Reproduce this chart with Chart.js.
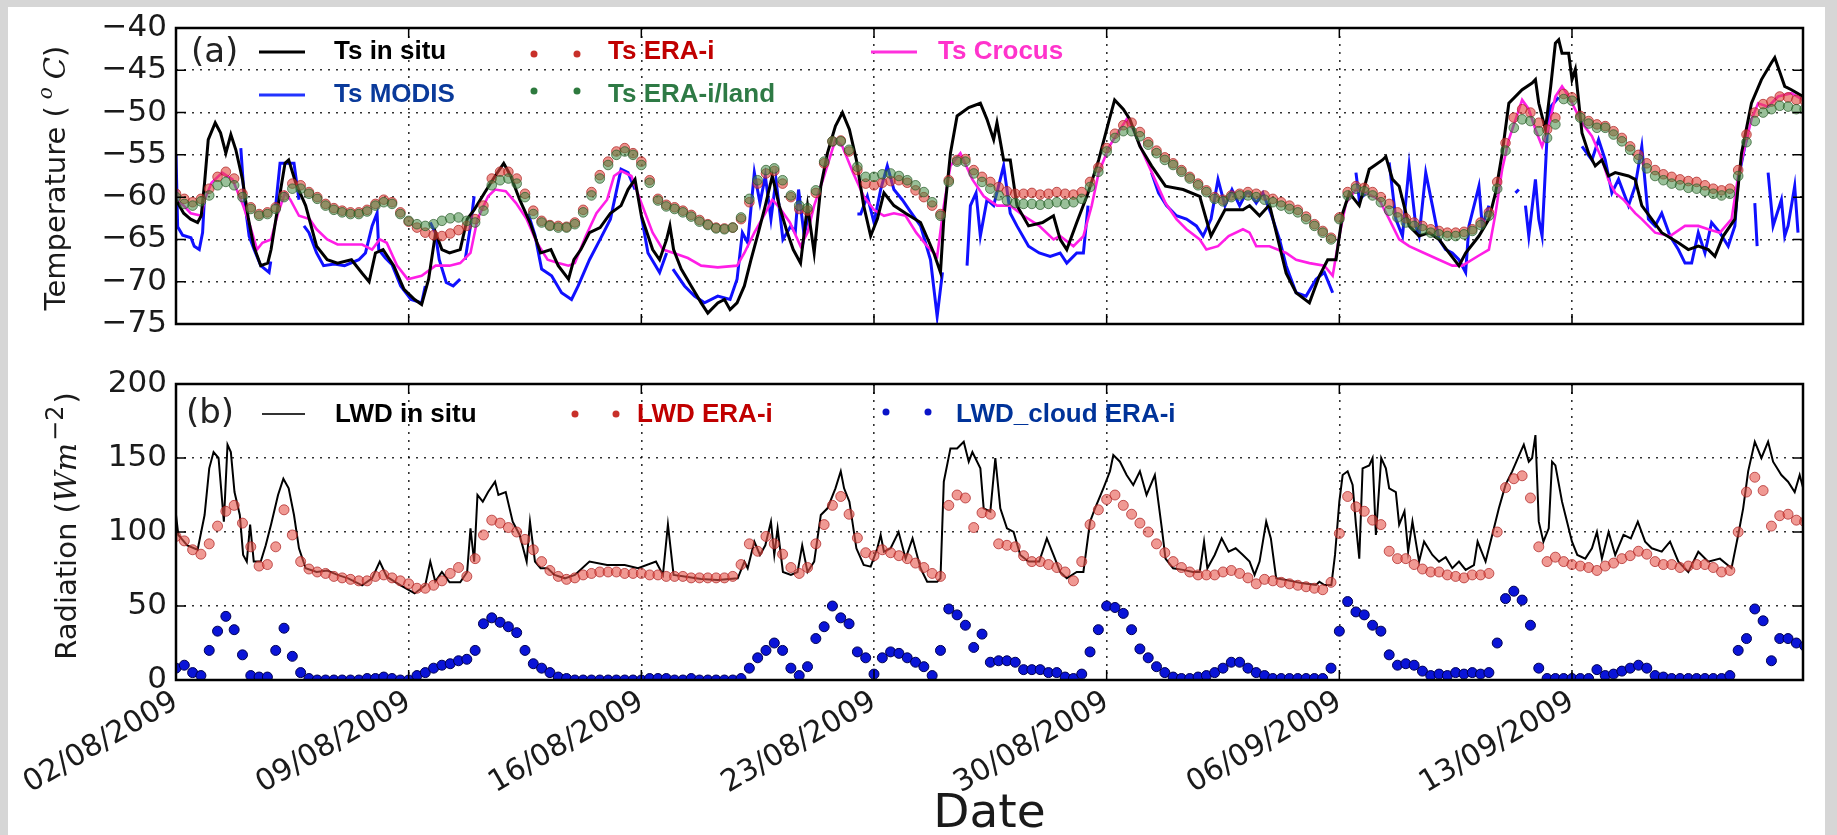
<!DOCTYPE html>
<html>
<head>
<meta charset="utf-8">
<script src="https://cdn.jsdelivr.net/npm/chart.js@4.4.0/dist/chart.umd.min.js"></script>
<style>
  html, body { margin: 0; padding: 0; width: 1837px; height: 835px; overflow: hidden; background: #d6d6d6; }
  #card { position: absolute; left: 8px; top: 7px; width: 1817px; height: 828px; background: #fff; }
  canvas { position: absolute; left: 0; top: 0; }
  .ytitle { position: absolute; white-space: nowrap; font: 29px "DejaVu Sans", sans-serif; color: #1a1a1a;
            line-height: 1; transform: translate(-50%, -50%) rotate(-90deg); z-index: 5; }
  .mth { font-family: "DejaVu Serif", serif; font-style: italic; }
  .deg { font-family: "DejaVu Serif", serif; font-style: italic; font-size: 20px; position: relative; top: -13px; margin-left: 7px; }
  .pow { font-size: 24px; position: relative; top: -13px; margin-left: 2px; margin-right: 2px; }
</style>
</head>
<body>
<div id="card"></div>
<canvas id="topChart" width="1837" height="835"></canvas>
<canvas id="botChart" width="1837" height="835"></canvas>
<div class="ytitle" style="left:55px; top:178px;">Temperature (<span class="deg">o</span><span class="mth" style="margin-left:8px">C</span>)</div>
<div class="ytitle" style="left:66px; top:526px;">Radiation (<span class="mth" style="font-size:30px">Wm</span><span class="pow">&#8722;2</span>)</div>
<script>
// x axis = days since 02/08/2009 00:00
const tickDays = [0, 7, 14, 21, 28, 35, 42];
const tickLabels = ['02/08/2009', '09/08/2009', '16/08/2009', '23/08/2009', '30/08/2009', '06/09/2009', '13/09/2009'];
const xMax = 48.95;
const tempTicks = [-75, -70, -65, -60, -55, -50, -45, -40];
const radTicks = [0, 50, 100, 150, 200];

// ---- panel (a): surface temperature ----
// [day, degC]
const tsInSitu = [[0,-60.3],[0.23,-61.9],[0.44,-62.6],[0.65,-63],[0.76,-62.2],[0.86,-58.3],[0.97,-53.2],[1.18,-51.2],[1.34,-52.4],[1.5,-54.8],[1.65,-52.6],[1.8,-54.4],[2.0,-57.9],[2.18,-62.6],[2.34,-65.8],[2.55,-68.1],[2.76,-67.8],[2.86,-66.2],[3.07,-61],[3.28,-56],[3.39,-55.6],[3.6,-58.3],[3.9,-61],[4.23,-65.8],[4.55,-67.4],[4.86,-67.8],[5.28,-67.4],[5.6,-69],[5.81,-70],[6.0,-66.6],[6.23,-66.2],[6.55,-68.1],[6.86,-70.9],[7.18,-72.1],[7.39,-72.7],[7.6,-69.7],[7.81,-64.2],[8.0,-66.2],[8.23,-66.6],[8.55,-66.2],[8.76,-62.6],[8.97,-61.5],[9.28,-59.5],[9.6,-57.5],[9.86,-56],[10.07,-57.5],[10.34,-60.3],[10.65,-63],[10.97,-66.6],[11.28,-66.2],[11.5,-68.1],[11.81,-69.7],[11.97,-67.4],[12.18,-66.2],[12.44,-64.2],[12.76,-63.6],[13.07,-61.9],[13.39,-61],[13.6,-59.1],[13.81,-57.9],[14.0,-62.2],[14.34,-66.2],[14.55,-67.4],[14.76,-65],[14.86,-63.4],[14.97,-66.2],[15.2,-68.5],[15.5,-70.5],[15.8,-72.5],[16.0,-73.7],[16.3,-72.5],[16.5,-72.1],[16.67,-73.3],[16.88,-72.5],[17.1,-70.5],[17.3,-67.4],[17.52,-64.2],[17.73,-61],[17.94,-57.5],[18.15,-61],[18.36,-63.8],[18.57,-66.2],[18.79,-67.8],[19.0,-61],[19.2,-66.6],[19.4,-58.7],[19.6,-54.8],[19.84,-51.6],[20.05,-50],[20.26,-52],[20.47,-55.6],[20.69,-61],[20.9,-64.6],[21.1,-62.6],[21.3,-59.5],[21.6,-61],[21.95,-61.9],[22.4,-63],[22.8,-66.6],[23.0,-68.9],[23.1,-62.6],[23.3,-54.8],[23.5,-50.4],[23.85,-49.4],[24.2,-48.9],[24.4,-50.8],[24.6,-53.2],[24.7,-51.2],[24.9,-55.6],[25.1,-55.6],[25.3,-61],[25.65,-63.4],[26.07,-63],[26.4,-62.2],[26.6,-65],[26.8,-66.2],[27.1,-63],[27.44,-59.5],[27.76,-55.6],[28.08,-50.8],[28.24,-48.5],[28.5,-49.6],[28.7,-50.8],[29.0,-54],[29.35,-56.3],[29.77,-58.7],[30.3,-59.1],[30.8,-59.9],[31.14,-64.6],[31.56,-61.5],[32.1,-61.5],[32.3,-61],[32.6,-62.2],[32.9,-60.9],[33.4,-69],[33.7,-71.3],[34.1,-72.5],[34.4,-69.3],[34.65,-67.4],[34.9,-67.4],[35.1,-61.9],[35.3,-59.5],[35.6,-61],[35.9,-56.7],[36.3,-55.6],[36.4,-55.2],[36.6,-57.9],[36.8,-58.7],[37.1,-63.4],[37.4,-64.6],[37.7,-64.2],[38.0,-65],[38.3,-66.6],[38.6,-68.1],[38.8,-66.6],[39.2,-64.6],[39.5,-62.6],[39.7,-59.5],[39.9,-54.8],[40.1,-48.9],[40.5,-47.3],[40.8,-46.5],[40.9,-46.1],[41.0,-48.9],[41.2,-52],[41.36,-46.9],[41.5,-41.8],[41.6,-41.4],[41.7,-43],[41.9,-43],[42.0,-46.1],[42.1,-44.9],[42.3,-52.4],[42.5,-54.8],[42.7,-56.3],[42.9,-55.6],[43.1,-57.5],[43.3,-57.1],[43.7,-57.5],[43.9,-57.9],[44.1,-61],[44.4,-62.6],[44.7,-64.2],[45.2,-65.4],[45.5,-66.2],[45.8,-65.8],[46.1,-66.2],[46.3,-67],[46.55,-64.6],[46.9,-62.6],[47.1,-54.8],[47.4,-48.9],[47.7,-46.1],[48.0,-44.1],[48.1,-43.5],[48.4,-46.9],[48.6,-47.3],[48.95,-48.1]];

// [day, degC], null = no MODIS retrieval
const tsModis = [[0,-55],[0.05,-63.5],[0.2,-64.5],[0.45,-64.8],[0.55,-65.8],[0.7,-66.2],[0.8,-64.2],[0.85,-60.5],[0.9,null],
  [1.95,-54.2],[2.05,-60],[2.2,-64.6],[2.35,-66.2],[2.55,-68.1],[2.8,-68.9],[2.85,-67.6],[2.9,null],
  [3.0,-61],[3.13,-56],[3.3,-56],[3.55,-56],[3.7,-60.3],[3.78,null],
  [3.85,-63.4],[4.0,-64.2],[4.23,-66.6],[4.44,-68.1],[4.76,-67.9],[5.07,-68.1],[5.5,-67.4],[5.7,-66.6],[5.9,-63.4],[6.05,-61.9],[6.1,-66.2],[6.3,-67.2],[6.5,-68],[6.76,-70.5],[7.07,-72.1],[7.39,-72.5],[7.5,-70.5],[7.55,null],
  [7.65,-63],[7.8,-64.2],[7.92,-67.4],[8.13,-70.1],[8.34,-70.5],[8.55,-69.7],[8.6,null],
  [8.7,-67.4],[8.86,-63.4],[8.97,-59.9],[9.0,null],
  [10.6,-62],[10.8,-64.5],[11.0,-68.5],[11.3,-69.3],[11.6,-71.3],[11.9,-72.1],[12.1,-70.5],[12.44,-67.4],[12.76,-65],[13.07,-62.6],[13.39,-56.7],[13.6,-57.1],[13.81,-59.1],[13.9,null],
  [14.0,-62.2],[14.2,-66.6],[14.55,-68.9],[14.76,-66.6],[14.85,null],
  [14.95,-68.5],[15.3,-70.5],[15.6,-71.7],[15.9,-72.5],[16.3,-71.7],[16.67,-72.1],[16.88,-69.7],[17.04,-64.2],[17.2,-65.4],[17.4,-57.1],[17.57,-60.7],[17.73,-57.5],[17.9,-62.6],[18.05,-57.9],[18.26,-65],[18.5,-63.4],[18.63,-64.2],[18.73,-59.1],[18.9,-64.6],[19.05,-61.5],[19.1,null],
  [20.5,-62],[20.6,-62],[20.8,-59.9],[21.0,-63],[21.2,-59.1],[21.4,-56.3],[21.6,-59.1],[21.85,-60.3],[22.06,-61.5],[22.4,-63.4],[22.7,-67.4],[22.9,-74.1],[23.06,-68.9],[23.1,null],
  [23.8,-68.1],[23.9,-61],[24.07,-59.5],[24.2,-64.6],[24.4,-60.3],[24.6,-61],[24.9,-56.3],[25.1,-61.9],[25.3,-63.4],[25.65,-65.8],[25.97,-66.6],[26.3,-67],[26.6,-66.6],[26.8,-67.8],[27.1,-66.6],[27.3,-66.6],[27.44,-61],[27.5,null],
  [29.35,-57.1],[29.56,-59.5],[29.8,-61],[30.1,-62.2],[30.4,-62.6],[30.7,-63.4],[30.9,-64.6],[31.14,-62.6],[31.35,-57.9],[31.56,-61],[31.77,-59.1],[32.0,-61],[32.2,-59.5],[32.3,-59.5],[32.5,-60.7],[32.7,-59.5],[32.94,-61.9],[33.2,-65],[33.4,-68.1],[33.7,-71.3],[34.0,-71.7],[34.3,-69.7],[34.55,-68.9],[34.8,-71.3],[34.85,null],
  [35.5,-57.1],[35.6,-60.3],[35.8,-59.5],[35.85,null],
  [36.5,-55.9],[36.7,-62.6],[36.9,-64.6],[37.1,-56.3],[37.3,-63.4],[37.4,-64.6],[37.6,-57.1],[37.8,-61],[38.0,-65],[38.2,-66.2],[38.4,-66.6],[38.6,-67.4],[38.8,-68.9],[38.9,-63.4],[39.2,-58.7],[39.3,-63.4],[39.5,-61],[39.55,null],
  [40.3,-59.5],[40.4,-59.1],[40.45,null],
  [40.6,-61],[40.7,-64.6],[40.9,-57.9],[41.0,-62.6],[41.1,-64.6],[41.25,-52.8],[41.36,-49.3],[41.6,-48.2],[41.65,null],
  [42.3,-54],[42.6,-55.6],[42.8,-53.2],[43.0,-55.6],[43.2,-59.5],[43.4,-57.9],[43.7,-61],[43.9,-58.7],[44.1,-54],[44.3,-62.6],[44.5,-63.4],[44.7,-61.9],[44.95,-64.6],[45.2,-66.2],[45.4,-67.8],[45.6,-67.8],[45.8,-64.2],[46.0,-66.6],[46.2,-63],[46.45,-64.2],[46.7,-65.8],[46.9,-63.4],[47.0,-57.9],[47.2,-54],[47.3,-52.4],[47.35,null],
  [47.5,-60.7],[47.57,-65.8],[47.6,null],
  [47.9,-57.1],[48.05,-63.4],[48.3,-60.3],[48.4,-64.6],[48.5,-63.4],[48.7,-58.7],[48.8,-64.2]];

// [day, degC]
const tsCrocus = [[0,-60.3],[0.23,-61],[0.44,-61.9],[0.76,-62.2],[0.86,-60.3],[1.07,-58.3],[1.39,-57.1],[1.7,-57.9],[2.02,-61],[2.23,-63.4],[2.44,-66.2],[2.6,-65.4],[2.86,-65],[3.07,-61.9],[3.28,-59.5],[3.44,-60.3],[3.7,-62.2],[4.02,-62.6],[4.23,-63.8],[4.55,-65],[4.86,-65.6],[5.4,-65.6],[5.6,-65.6],[5.9,-66.2],[6.13,-65],[6.34,-65.4],[6.65,-68.1],[6.97,-69.7],[7.39,-69.3],[7.81,-68.1],[8.23,-68.1],[8.55,-67.8],[8.86,-66.6],[9.07,-62.6],[9.39,-59.9],[9.6,-59.1],[9.92,-59.3],[10.23,-60.7],[10.55,-62.6],[10.86,-65.4],[11.18,-67.4],[11.5,-67.8],[11.81,-68.1],[12.0,-67.8],[12.33,-64.6],[12.65,-61.9],[12.97,-60.3],[13.18,-57.5],[13.39,-56.9],[13.7,-57.5],[14.0,-60.7],[14.34,-64.2],[14.65,-66.2],[14.97,-66.6],[15.4,-67.2],[15.8,-68.1],[16.3,-68.3],[16.88,-68.1],[17.1,-66.6],[17.4,-64.2],[17.73,-61.9],[17.94,-60.3],[18.15,-61.2],[18.47,-63],[18.79,-65.8],[19.0,-64.2],[19.2,-61],[19.5,-57.5],[19.84,-53.2],[20.05,-54],[20.37,-57.1],[20.69,-59.9],[21.0,-61.5],[21.3,-62.2],[21.6,-61.9],[21.95,-62.2],[22.27,-64.2],[22.6,-65.8],[22.9,-67],[23.1,-61],[23.3,-56.3],[23.6,-54.8],[23.96,-57.9],[24.3,-59.9],[24.7,-61],[25.1,-61],[25.5,-62.2],[25.97,-63.4],[26.4,-65],[26.6,-64.6],[27.0,-65.8],[27.3,-64.6],[27.55,-61],[27.76,-57.1],[28.08,-54],[28.4,-52],[28.6,-50.8],[28.8,-52],[29.1,-54.8],[29.45,-57.9],[29.77,-60.7],[30.1,-62.6],[30.4,-63.8],[30.8,-65],[31.0,-66.2],[31.35,-65.8],[31.67,-64.6],[32.1,-63.8],[32.3,-64.2],[32.5,-65.8],[32.9,-65.8],[33.4,-66.6],[33.7,-67.4],[34.1,-67.8],[34.55,-68.1],[34.8,-69.3],[35.0,-64.6],[35.2,-60.7],[35.5,-59.1],[35.8,-59.5],[36.2,-60.3],[36.5,-62.6],[36.8,-65],[37.1,-65.8],[37.55,-66.6],[38.0,-67.4],[38.4,-68.1],[38.7,-68.1],[39.2,-66.9],[39.5,-66.2],[39.7,-61.9],[39.9,-56.7],[40.1,-53.2],[40.5,-48.5],[40.7,-49.6],[40.9,-52],[41.1,-54],[41.3,-51.6],[41.5,-48.1],[41.7,-46.9],[41.9,-48.1],[42.3,-51.2],[42.6,-52.8],[42.9,-55.5],[43.1,-58],[43.3,-59.5],[43.55,-60.3],[43.9,-61.9],[44.1,-62.6],[44.5,-64.2],[44.95,-64.6],[45.4,-63.4],[45.8,-63.4],[46.1,-63.8],[46.45,-64.2],[46.8,-62.6],[47.0,-57.5],[47.2,-54],[47.4,-50.8],[47.6,-48.9],[47.9,-49.3],[48.2,-48.1],[48.6,-47.7],[48.95,-48.5]];

// 6-hourly values from 02/08/2009 00:00, degC
const tsEraI = [
  -59.6,-60.2,-60.6,-60.2, -59.0,-57.6,-57.0,-57.8, -59.6,-61.2,-62.0,-61.8, -61.2,-59.8,-58.4,-58.6,
  -59.4,-60.0,-60.8,-61.3, -61.6,-61.8,-61.8,-61.5, -60.8,-60.3,-60.6,-61.8, -62.9,-63.6,-64.2,-64.5,
  -64.6,-64.3,-63.9,-63.4, -62.6,-61.0,-57.8,-57.0, -57.0,-57.8,-59.6,-61.6, -62.8,-63.3,-63.4,-63.5,
  -63.0,-61.5,-59.4,-57.4, -55.8,-54.6,-54.2,-54.8, -55.8,-58.0,-60.2,-60.9, -61.2,-61.6,-62.1,-62.7,
  -63.2,-63.6,-63.7,-63.6, -62.6,-60.6,-58.4,-57.2, -56.9,-58.4,-60.0,-61.4, -61.6,-59.5,-56.0,-53.4,
  -53.3,-54.6,-56.8,-58.4, -58.6,-58.3,-58.1,-58.0, -58.3,-59.2,-60.0,-61.0, -62.0,-58.0,-55.6,-55.5,
  -56.8,-57.6,-58.2,-58.8, -59.3,-59.6,-59.6,-59.5, -59.7,-59.6,-59.4,-59.6, -59.7,-59.4,-58.2,-56.5,
  -54.2,-52.5,-51.5,-51.2, -52.3,-53.5,-54.5,-55.3, -56.0,-56.8,-57.6,-58.4, -59.2,-60.0,-60.3,-59.8,
  -59.6,-59.4,-59.6,-59.8, -60.2,-60.6,-61.0,-61.5, -62.3,-63.2,-64.0,-64.8, -62.4,-59.4,-58.7,-58.9,
  -59.4,-60.0,-60.8,-61.8, -62.5,-63.0,-63.4,-63.8, -64.0,-64.2,-64.2,-64.1, -63.8,-63.0,-61.8,-58.2,
  -53.6,-50.6,-49.6,-50.0, -51.2,-52.0,-50.6,-47.8, -48.2,-50.4,-51.0,-51.4, -51.6,-52.2,-53.0,-54.0,
  -55.0,-56.0,-56.8,-57.3, -57.6,-57.9,-58.1,-58.2, -58.6,-59.0,-59.2,-59.0, -56.8,-52.6,-50.0,-49.0,
  -48.7,-48.1,-48.2,-48.5, -48.6];

const tsEraLand = [
  -60.0,-60.8,-61.0,-60.5, -59.8,-58.6,-58.2,-58.6, -60.0,-61.4,-62.2,-62.0, -61.4,-60.0,-59.0,-59.0,
  -59.6,-60.2,-61.0,-61.5, -61.8,-62.0,-62.0,-61.7, -61.0,-60.6,-60.8,-62.0, -62.8,-63.2,-63.4,-63.2,
  -62.8,-62.5,-62.4,-62.8, -63.0,-61.6,-58.6,-58.0, -57.8,-58.4,-60.0,-62.0, -63.0,-63.4,-63.6,-63.6,
  -63.2,-61.8,-59.8,-57.8, -56.2,-55.0,-54.6,-55.0, -56.2,-58.3,-60.4,-61.1, -61.4,-61.8,-62.3,-62.9,
  -63.3,-63.7,-63.8,-63.6, -62.4,-60.2,-58.0,-56.8, -56.6,-58.0,-59.8,-61.0, -61.3,-59.2,-55.8,-53.4,
  -53.4,-54.4,-56.4,-57.6, -57.6,-57.3,-57.2,-57.5, -58.0,-58.6,-59.4,-60.6, -62.2,-58.2,-55.8,-55.8,
  -57.2,-58.2,-59.0,-59.8, -60.4,-60.7,-60.8,-60.8, -60.9,-60.8,-60.6,-60.8, -60.6,-60.2,-58.8,-57.0,
  -54.6,-53.0,-52.2,-52.2, -52.8,-53.8,-54.8,-55.6, -56.2,-57.0,-57.8,-58.6, -59.4,-60.2,-60.5,-60.0,
  -59.8,-59.8,-60.0,-60.3, -60.6,-61.0,-61.4,-61.8, -62.6,-63.4,-64.2,-65.0, -62.6,-59.8,-59.0,-59.3,
  -59.8,-60.6,-61.6,-62.4, -63.0,-63.4,-63.8,-64.2, -64.4,-64.6,-64.6,-64.4, -64.0,-63.3,-62.2,-59.0,
  -54.5,-51.8,-50.8,-51.0, -52.2,-53.0,-51.4,-48.4, -48.6,-50.6,-51.3,-51.8, -51.8,-52.6,-53.4,-54.4,
  -55.5,-56.6,-57.5,-58.0, -58.4,-58.6,-58.9,-59.0, -59.3,-59.6,-59.8,-59.6, -57.5,-53.5,-51.0,-50.0,
  -49.6,-49.2,-49.3,-49.6, -49.6];

// ---- panel (b): downward longwave radiation ----
// [day, W m-2]
const lwdInSitu = [[0,111.5],[0.07,98],[0.34,91],[0.65,88],[0.86,111.5],[1.0,143],[1.13,154],[1.28,150],[1.44,107],[1.55,159],[1.65,154],[1.76,127],[1.92,111.5],[2.02,84.5],[2.13,80],[2.23,105],[2.34,80],[2.55,80],[2.7,91],[2.86,105],[3.07,125],[3.23,136],[3.39,129.5],[3.55,111.5],[3.7,89],[3.9,75.5],[4.23,73],[4.55,74],[4.86,71],[5.18,68.7],[5.6,64],[5.9,68.7],[6.13,80],[6.34,69.8],[6.76,64],[7.18,58.5],[7.5,64],[7.65,80],[7.8,66.5],[8.0,73],[8.23,66],[8.55,66],[8.76,73],[8.86,102.5],[8.97,80],[9.07,125],[9.23,120.5],[9.39,127],[9.6,134],[9.7,125],[9.92,127],[10.13,107],[10.34,98],[10.55,80],[10.65,107],[10.8,80],[10.97,75.5],[11.18,75.5],[11.39,71],[11.7,68.7],[12.0,71],[12.44,80],[12.97,77.7],[13.5,77.7],[13.9,75.5],[14.44,80],[14.65,71],[14.8,105],[14.97,71],[15.3,70],[15.8,68.2],[16.3,67.5],
  [16.9,68.7],[17.1,80],[17.2,75.5],[17.4,93.5],[17.57,84.5],[17.73,91],[17.9,107],[18.0,84.5],[18.1,102.5],[18.26,73],[18.5,71],[18.7,73],[18.84,91],[19.0,73],[19.2,80],[19.4,111.5],[19.6,116],[19.84,129.5],[20.0,141],[20.1,129.5],[20.26,120.5],[20.47,89],[20.69,77.7],[20.9,76.6],[21.1,89],[21.2,98],[21.3,86.7],[21.5,89],[21.74,100],[21.95,82],[22.16,95.7],[22.4,75.5],[22.6,66.4],[22.9,66.4],[23.0,68.7],[23.1,134],[23.3,156.5],[23.5,156.5],[23.7,161],[23.85,147.5],[23.96,154],[24.2,143],[24.3,116],[24.5,113.7],[24.65,150],[24.8,116],[25.0,102.5],[25.2,100],[25.4,84.5],[25.65,80],[25.97,80],[26.2,95.7],[26.4,84.5],[26.6,73],[26.8,68.7],[27.1,73],[27.3,73],[27.5,107],[27.65,116],[27.9,129.5],[28.1,141],[28.2,152],[28.4,147.5],[28.6,138.5],[28.8,131.8],[29.0,141],[29.2,125],[29.45,138.5],[29.66,102.5],[29.77,82],[30.0,75.5],[30.3,74.4],[30.6,73],[30.8,73],[30.93,93.5],[31.03,75.5],[31.25,84.5],[31.46,95.7],[31.67,86.7],[31.88,89],[32.1,84.5],[32.3,80],
  [32.45,71],[32.6,80],[32.8,107],[32.94,95.7],[33.1,68.7],[33.4,67.6],[33.9,65.3],[34.3,64.2],[34.4,66.4],[34.55,64.2],[34.76,64.2],[34.87,84.5],[35.0,120.5],[35.1,138.5],[35.25,141],[35.4,131.8],[35.5,105],[35.6,82],[35.7,143],[35.9,145],[36.0,150],[36.1,98],[36.26,150],[36.4,143],[36.5,129.5],[36.7,127],[36.8,105],[36.96,114],[37.07,86.7],[37.2,107],[37.4,80],[37.55,93.5],[37.8,84.5],[38.0,80],[38.2,83],[38.4,75.5],[38.6,80],[38.8,74.4],[39.05,77.7],[39.16,93.5],[39.4,80],[39.6,98],[39.8,116],[40.0,131.8],[40.2,141],[40.45,154],[40.55,159],[40.7,147.5],[40.8,150],[40.9,165.5],[41.0,107],[41.14,93.5],[41.3,102.5],[41.4,147.5],[41.5,145],[41.7,120.5],[41.8,111.5],[42.0,93.5],[42.16,84.5],[42.4,82],[42.6,89],[42.75,100],[42.9,82],[43.1,100],[43.3,84.5],[43.55,98],[43.77,95.7],[43.98,107],[44.2,93.5],[44.4,89],[44.7,86.7],[44.95,93.5],[45.2,80],[45.5,73],[45.8,86.7],[46.1,80],[46.45,82],[46.8,75.5],[47.0,98],[47.15,116],[47.3,141],[47.5,161],[47.7,150],[47.9,161],[48.05,147.5],[48.3,138.5],[48.5,134],[48.7,127],[48.85,138.5],[48.95,130]];

// 6-hourly values from 02/08/2009 00:00, W m-2
const lwdEraI = [
  97,94,88,85, 92,104,114,118, 106,90,77,78, 90,115,98,80, 75,73,72,70, 69,68,67,67, 70,71,69,67, 65,62,62,64,
  67,72,76,70, 82,98,108,106, 103,100,95,88, 80,74,70,68, 69,71,72,73, 73,73,72,72, 72,71,71,70, 70,70,69,69,
  69,69,69,70, 78,92,87,97, 92,85,76,72, 76,92,105,118, 124,112,96,86, 84,88,86,84, 82,79,76,72, 70,118,125,123,
  103,113,112,92, 91,90,84,80, 80,78,76,73, 67,80,105,115, 122,125,118,112, 106,100,92,86, 80,76,73,71, 71,71,73,74,
  72,69,65,68, 67,66,65,64, 63,62,61,66, 99,124,117,114, 108,105,87,82, 82,78,75,73, 73,71,70,69, 71,71,72,100,
  130,136,138,123, 90,80,83,80, 78,77,76,74, 77,79,82,84, 87,85,80,78, 78,76,77,78, 78,76,73,74, 100,127,137,128,
  104,111,112,108, 107];

const lwdCloud = [
  8,10,5,3, 20,33,43,34, 17,3,2,2, 20,35,16,5, 1,0,0,0, 0,0,0,1, 1,2,1,0, 0,3,5,8,
  10,11,13,14, 20,38,42,39, 36,32,20,11, 8,5,2,1, 0,0,0,0, 0,0,0,0, 0,1,1,1, 0,0,1,0,
  0,0,0,0, 1,8,15,20, 25,20,8,3, 9,28,36,50, 42,38,19,15, 4,15,19,18, 15,12,9,3, 20,48,44,37,
  22,31,12,13, 13,12,7,7, 7,5,5,2, 1,4,19,34, 50,49,45,34, 21,15,9,5, 2,1,1,2, 3,5,8,12,
  12,8,5,3, 1,1,1,1, 1,1,1,8, 33,53,46,44, 37,33,17,10, 11,10,6,3, 4,3,5,4, 5,4,5,25,
  55,60,54,37, 8,1,1,1, 1,1,1,7, 3,4,6,8, 10,8,3,2, 1,1,1,1, 1,1,1,3, 20,28,48,40,
  13,28,28,25, 23];

const pairs = arr => arr.map(([x, y]) => ({x, y}));
const sixHourly = arr => arr.map((y, i) => ({x: i / 4, y}));
const minus = v => (v < 0 ? '\u2212' + Math.abs(v) : String(v));

const legendFont = 'bold 26px "Liberation Sans", Arial, sans-serif';

// frame, inward ticks, panel tag, legend, x title
const decor = {
  id: 'decor',
  afterDraw(chart, args, o) {
    const ctx = chart.ctx, a = chart.chartArea;
    const xs = chart.scales.x, ys = chart.scales.y;
    ctx.save();
    ctx.strokeStyle = '#000';
    ctx.lineWidth = 1.5;
    ctx.beginPath();
    tickDays.forEach(d => {
      const px = xs.getPixelForValue(d);
      ctx.moveTo(px, a.bottom); ctx.lineTo(px, a.bottom - 10);
      ctx.moveTo(px, a.top); ctx.lineTo(px, a.top + 10);
    });
    o.yTicks.forEach(v => {
      const py = ys.getPixelForValue(v);
      ctx.moveTo(a.left, py); ctx.lineTo(a.left + 10, py);
      ctx.moveTo(a.right, py); ctx.lineTo(a.right - 10, py);
    });
    ctx.stroke();
    ctx.lineWidth = 2.5;
    ctx.strokeRect(a.left, a.top, a.right - a.left, a.bottom - a.top);

    ctx.font = '34px "DejaVu Sans"';
    ctx.fillStyle = '#222';
    ctx.textAlign = 'left';
    ctx.textBaseline = 'alphabetic';
    ctx.fillText(o.tag.text, o.tag.x, o.tag.y);

    o.legend.forEach(it => {
      if (it.kind === 'line') {
        ctx.strokeStyle = it.color;
        ctx.lineWidth = it.width;
        ctx.beginPath(); ctx.moveTo(it.x1, it.y); ctx.lineTo(it.x2, it.y); ctx.stroke();
      } else {
        it.xs.forEach(cx => {
          ctx.beginPath(); ctx.arc(cx, it.y, 3.5, 0, Math.PI * 2);
          ctx.fillStyle = it.color; ctx.fill();
        });
      }
      ctx.font = legendFont;
      ctx.fillStyle = it.textColor;
      ctx.fillText(it.text, it.tx, it.ty);
    });

    if (o.xTitle) {
      ctx.font = '47px "DejaVu Sans"';
      ctx.fillStyle = '#1a1a1a';
      ctx.textAlign = 'center';
      ctx.fillText(o.xTitle, (a.left + a.right) / 2, 827);
    }
    ctx.restore();
  }
};

Chart.defaults.font.family = '"DejaVu Sans", sans-serif';
Chart.defaults.color = '#1a1a1a';

function xScale(showLabels, height) {
  return {
    type: 'linear', min: 0, max: xMax,
    afterBuildTicks: s => { s.ticks = tickDays.map(v => ({value: v})); },
    afterFit: s => { s.height = height; },
    grid: { display: true, drawTicks: false, color: 'rgba(0,0,0,0.8)', lineWidth: 1.6 },
    border: { display: false, dash: [2, 6] },
    ticks: {
      display: showLabels, autoSkip: false, minRotation: 30, maxRotation: 30, padding: 4,
      font: { size: 30 }, color: '#1a1a1a',
      callback: v => tickLabels[tickDays.indexOf(v)]
    }
  };
}

function yScale(min, max, step) {
  return {
    min, max,
    afterFit: s => { s.width = 176; },
    grid: { display: true, drawTicks: false, color: 'rgba(0,0,0,0.8)', lineWidth: 1.6 },
    border: { display: false, dash: [2, 6] },
    ticks: { stepSize: step, padding: 9, font: { size: 31 }, color: '#1a1a1a', callback: v => minus(v) }
  };
}

const lineDs = (data, color, width) => ({
  data, borderColor: color, borderWidth: width, pointRadius: 0, fill: false,
  tension: 0, spanGaps: false
});
const dotDs = (data, fill, edge, r) => ({
  data, showLine: false, pointRadius: r, pointBackgroundColor: fill,
  pointBorderColor: edge, pointBorderWidth: 1
});

new Chart(document.getElementById('topChart'), {
  type: 'line',
  data: {
    datasets: [
      dotDs(sixHourly(tsEraLand), 'rgba(70,140,70,0.55)', 'rgba(40,90,40,0.7)', 4.8),
      dotDs(sixHourly(tsEraI), 'rgba(225,70,60,0.6)', 'rgba(170,30,30,0.7)', 4.8),
      lineDs(pairs(tsInSitu), '#000000', 3),
      lineDs(pairs(tsCrocus), '#ff1ee6', 2.6),
      lineDs(pairs(tsModis), '#1010ff', 3)
    ]
  },
  options: {
    responsive: false, animation: false, events: [],
    layout: { padding: { left: 0, top: 28, right: 34, bottom: 511 } },
    scales: { x: xScale(false, 0), y: yScale(-75, -40, 5) },
    plugins: {
      legend: { display: false }, tooltip: { enabled: false },
      decor: {
        yTicks: tempTicks,
        tag: { text: '(a)', x: 191, y: 62 },
        legend: [
          { kind: 'line', color: '#000', width: 3, x1: 259, x2: 305, y: 52, text: 'Ts in situ', textColor: '#000', tx: 334, ty: 59 },
          { kind: 'line', color: '#2233ff', width: 3, x1: 259, x2: 305, y: 95, text: 'Ts MODIS', textColor: '#0a3a9a', tx: 334, ty: 102 },
          { kind: 'dots', color: '#c8302a', xs: [534, 577], y: 54, text: 'Ts ERA-i', textColor: '#c00000', tx: 608, ty: 59 },
          { kind: 'dots', color: '#2e7a3e', xs: [534, 577], y: 91, text: 'Ts ERA-i/land', textColor: '#2e7a45', tx: 608, ty: 102 },
          { kind: 'line', color: '#ff30dd', width: 3, x1: 871, x2: 917, y: 52, text: 'Ts Crocus', textColor: '#ff33cc', tx: 938, ty: 59 }
        ]
      }
    }
  },
  plugins: [decor]
});

new Chart(document.getElementById('botChart'), {
  type: 'line',
  data: {
    datasets: [
      dotDs(sixHourly(lwdCloud), '#0a14d8', '#000050', 5),
      dotDs(sixHourly(lwdEraI), 'rgba(230,85,75,0.6)', 'rgba(170,30,30,0.7)', 5),
      lineDs(pairs(lwdInSitu), '#000000', 2)
    ]
  },
  options: {
    responsive: false, animation: false, events: [],
    layout: { padding: { left: 0, top: 384, right: 34, bottom: 0 } },
    scales: { x: xScale(true, 155), y: yScale(0, 200, 50) },
    plugins: {
      legend: { display: false }, tooltip: { enabled: false },
      decor: {
        yTicks: radTicks,
        xTitle: 'Date',
        tag: { text: '(b)', x: 186, y: 423 },
        legend: [
          { kind: 'line', color: '#333', width: 2, x1: 262, x2: 305, y: 414, text: 'LWD in situ', textColor: '#000', tx: 335, ty: 422 },
          { kind: 'dots', color: '#c8302a', xs: [575, 616], y: 414, text: 'LWD ERA-i', textColor: '#c00000', tx: 637, ty: 422 },
          { kind: 'dots', color: '#0a14c8', xs: [886, 928], y: 412, text: 'LWD_cloud ERA-i', textColor: '#003399', tx: 956, ty: 422 }
        ]
      }
    }
  },
  plugins: [decor]
});
</script>
</body>
</html>
